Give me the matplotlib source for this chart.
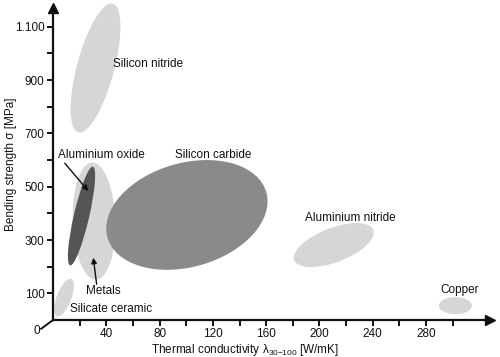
import numpy as np
import matplotlib
matplotlib.use("Agg")
import matplotlib.pyplot as plt
from matplotlib.patches import Ellipse
from matplotlib.transforms import Affine2D

plt.rcParams['font.family'] = ['Liberation Sans', 'DejaVu Sans']
plt.rcParams['mathtext.fontset'] = 'custom'
plt.rcParams['mathtext.rm'] = 'Liberation Sans'

# material regions: centre (W/mK, MPa), size along own axes (in W/mK-like units), tilt
names = ['Metals', 'Silicon nitride', 'Aluminium oxide', 'Silicon carbide',
         'Aluminium nitride', 'Copper', 'Silicate ceramic']
cx = [30.8, 31.9, 21.4, 100.5, 210.8, 302, 8.3]
cy = [371, 945, 390, 394, 281, 54, 84]
ew = [88, 100, 76, 124, 63.5, 24.8, 30]
eh = [32, 28, 11.5, 78, 25.7, 12.8, 11]
tilt = [92, 75, 77, 16, 21, 0, 69]
shade = ['#d6d6d6', '#d6d6d6', '#555555', '#8a8a8a', '#d6d6d6', '#d6d6d6', '#d6d6d6']

# label positions
lab_x = [24.8, 45, 3.8, 91.5, 189, 291, 12.8]
lab_y = [109, 960, 619, 619, 382, 112, 41]

xticks = np.arange(20, 301, 20)
xlabels = ['' if v % 40 else str(v) for v in xticks]
yticks = np.arange(100, 1101, 100)
ylabels = ['1.100' if v == 1100 else (str(v) if v % 200 else '') for v in yticks]

fig = plt.figure(figsize=(5, 3.57), dpi=100)
ax = fig.add_axes([0.106, 0.1036, 0.874, 0.874])
ax.set_xlim(0, 328)
ax.set_ylim(0, 1170)

# scale so ellipses keep their shape on screen
W, H = fig.get_size_inches() * fig.dpi
ratio = (W * 0.874 / 328) / (H * 0.874 / 1170)
tr = Affine2D().scale(1, ratio) + ax.transData

for i in range(len(names)):
    e = Ellipse((cx[i], cy[i] / ratio), ew[i], eh[i], angle=tilt[i],
                facecolor=shade[i], edgecolor='none', transform=tr, clip_on=False)
    ax.add_patch(e)

for i in range(len(names)):
    ax.text(lab_x[i], lab_y[i], names[i], fontsize=8.5, color='#111111',
            ha='left', va='center')

arrow = dict(arrowstyle='-|>', color='#111111', lw=1.0, mutation_scale=8)
ax.annotate('', xy=(27.8, 476), xytext=(7.5, 596), arrowprops=arrow)
ax.annotate('', xy=(30, 244), xytext=(33, 124), arrowprops=arrow)

for s in ['top', 'right']:
    ax.spines[s].set_visible(False)
for s in ['left', 'bottom']:
    ax.spines[s].set_linewidth(1.6)
    ax.spines[s].set_color('#111111')
ax.plot(1, 0, '>', color='#111111', markersize=7, transform=ax.transAxes, clip_on=False)
ax.plot(0, 1, '^', color='#111111', markersize=7, transform=ax.transAxes, clip_on=False)

ax.set_xticks(xticks)
ax.set_xticklabels(xlabels)
ax.set_yticks(yticks)
ax.set_yticklabels(ylabels)
ax.tick_params(direction='out', length=4, width=1.4, color='#111111',
               labelsize=8.5, labelcolor='#111111', pad=2)

# origin label with a short diagonal stroke
ax.plot([-0.027, 0], [-0.028, 0], color='#111111', lw=1.4,
        transform=ax.transAxes, clip_on=False)
ax.text(-0.03, -0.035, '0', fontsize=8.5, color='#111111', ha='right', va='center',
        transform=ax.transAxes)

ax.text(0.44, -0.095, r'Thermal conductivity λ$_{30\mathrm{-}100}$ [W/mK]', fontsize=8.5,
        color='#111111', ha='center', va='center', transform=ax.transAxes)
ax.text(-0.095, 0.5, 'Bending strength σ [MPa]', fontsize=8.5, color='#111111',
        rotation=90, ha='center', va='center', transform=ax.transAxes)

fig.savefig('out.png', dpi=100)
